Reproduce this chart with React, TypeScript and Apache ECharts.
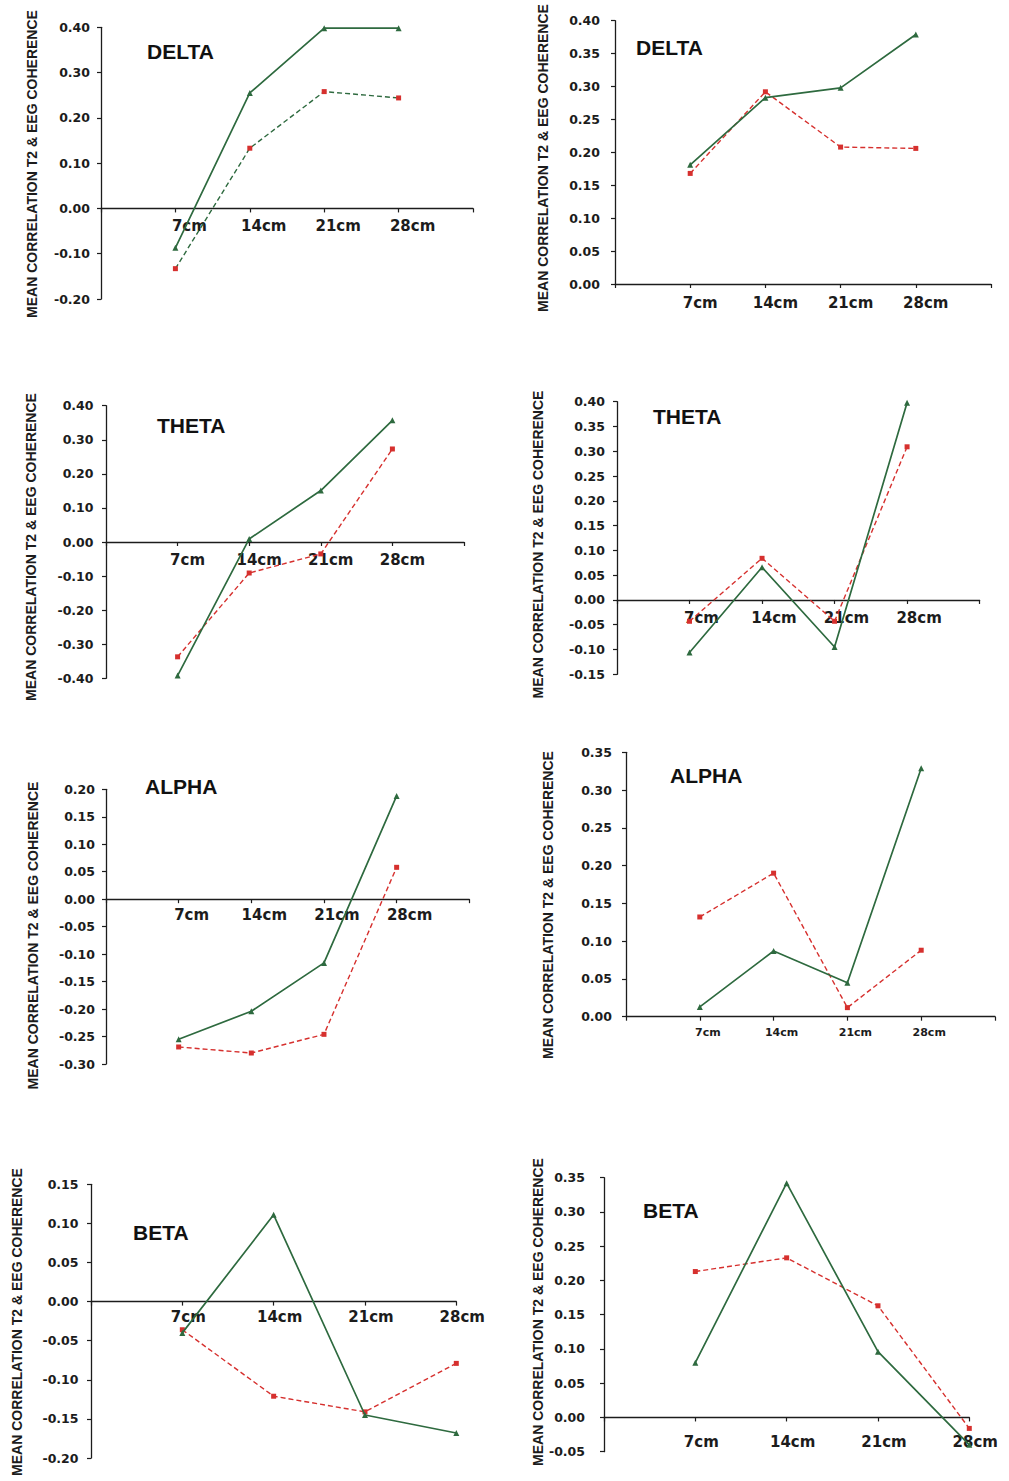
import React, { useEffect, useRef } from "react";
import * as echarts from "echarts";

const categories = ["7cm", "14cm", "21cm", "28cm"];
const yAxisTitle = "MEAN CORRELATION T2 & EEG COHERENCE";

const deltaLeftGreen = [-0.087, 0.255, 0.398, 0.398];
const deltaLeftRed = [-0.133, 0.133, 0.258, 0.244];
const deltaRightGreen = [0.181, 0.283, 0.298, 0.379];
const deltaRightRed = [0.168, 0.292, 0.208, 0.206];
const thetaLeftGreen = [-0.392, 0.009, 0.151, 0.357];
const thetaLeftRed = [-0.337, -0.091, -0.035, 0.273];
const thetaRightGreen = [-0.106, 0.066, -0.095, 0.398];
const thetaRightRed = [-0.043, 0.084, -0.043, 0.309];
const alphaLeftGreen = [-0.255, -0.204, -0.116, 0.188];
const alphaLeftRed = [-0.269, -0.28, -0.246, 0.058];
const alphaRightGreen = [0.013, 0.087, 0.045, 0.329];
const alphaRightRed = [0.132, 0.19, 0.012, 0.088];
const betaLeftGreen = [-0.04, 0.111, -0.145, -0.168];
const betaLeftRed = [-0.036, -0.121, -0.141, -0.079];
const betaRightGreen = [0.08, 0.342, 0.096, -0.04];
const betaRightRed = [0.213, 0.233, 0.163, -0.016];

const GREEN = "#2e6a3f";
const RED = "#d6302e";
const INK = "#1c1c1c";

const panels = [
  { title: "DELTA", green: deltaLeftGreen, red: deltaLeftRed, redLine: GREEN, yMin: -0.2, yMax: 0.4, yStep: 0.1, xMax: 5,
    left: 101, top: 27.3, width: 372, height: 271.7, yGap: 11, catDx: 14, catMargin: 10, catFont: 15,
    titleX: 147, titleY: 41, nameX: 32, nameY: 164 },
  { title: "DELTA", green: deltaRightGreen, red: deltaRightRed, redLine: RED, yMin: 0, yMax: 0.4, yStep: 0.05, xMax: 5,
    left: 615, top: 20.7, width: 376, height: 263.3, yGap: 15, catDx: 10, catMargin: 11, catFont: 15,
    titleX: 636, titleY: 37, nameX: 542.5, nameY: 158 },
  { title: "THETA", green: thetaLeftGreen, red: thetaLeftRed, redLine: RED, yMin: -0.4, yMax: 0.4, yStep: 0.1, xMax: 5,
    left: 106, top: 405.7, width: 358, height: 272.6, yGap: 12.5, catDx: 10, catMargin: 10, catFont: 15,
    titleX: 157, titleY: 414.5, nameX: 31, nameY: 547 },
  { title: "THETA", green: thetaRightGreen, red: thetaRightRed, redLine: RED, yMin: -0.15, yMax: 0.4, yStep: 0.05, xMax: 5,
    left: 617, top: 401.7, width: 362.6, height: 272.6, yGap: 12, catDx: 12, catMargin: 11, catFont: 15,
    titleX: 653, titleY: 405.5, nameX: 537.5, nameY: 544.5 },
  { title: "ALPHA", green: alphaLeftGreen, red: alphaLeftRed, redLine: RED, yMin: -0.3, yMax: 0.2, yStep: 0.05, xMax: 5,
    left: 106, top: 789.3, width: 363.3, height: 274.7, yGap: 11, catDx: 13, catMargin: 8, catFont: 15,
    titleX: 145, titleY: 775.5, nameX: 32.5, nameY: 935.5 },
  { title: "ALPHA", green: alphaRightGreen, red: alphaRightRed, redLine: RED, yMin: 0, yMax: 0.35, yStep: 0.05, xMax: 5,
    left: 626, top: 752.3, width: 369, height: 264.4, yGap: 14, catDx: 8, catMargin: 10, catFont: 11,
    titleX: 670, titleY: 765, nameX: 547.5, nameY: 905 },
  { title: "BETA", green: betaLeftGreen, red: betaLeftRed, redLine: RED, yMin: -0.2, yMax: 0.15, yStep: 0.05, xMax: 4,
    left: 91, top: 1184.3, width: 365.3, height: 273.7, yGap: 12.5, catDx: 6, catMargin: 8, catFont: 15,
    titleX: 133, titleY: 1222, nameX: 16.7, nameY: 1322 },
  { title: "BETA", green: betaRightGreen, red: betaRightRed, redLine: RED, yMin: -0.05, yMax: 0.35, yStep: 0.05, xMax: 4,
    left: 604, top: 1177.7, width: 365.3, height: 274, yGap: 19, catDx: 6, catMargin: 17, catFont: 15,
    titleX: 643, titleY: 1199.5, nameX: 537.5, nameY: 1312 },
];

export default function App() {
  const ref = useRef<HTMLDivElement>(null);

  useEffect(() => {
    if (!ref.current) return;
    const chart = echarts.init(ref.current, null, { renderer: "svg" });

    const grid: any[] = [];
    const xAxis: any[] = [];
    const yAxis: any[] = [];
    const series: any[] = [];
    const title: any[] = [];
    const graphic: any[] = [];

    panels.forEach((p, i) => {
      grid.push({ left: p.left, top: p.top, width: p.width, height: p.height, containLabel: false });
      // distance from the grid's bottom edge up to the value 0
      const zeroRise = (p.height * (0 - p.yMin)) / (p.yMax - p.yMin);
      xAxis.push({
        type: "value",
        gridIndex: i,
        position: "bottom",
        offset: -zeroRise,
        min: 0,
        max: p.xMax,
        interval: 1,
        axisLine: { show: true, onZero: false, lineStyle: { color: INK, width: 1.3 } },
        axisTick: { show: true, length: 4, lineStyle: { color: INK, width: 1.2 } },
        splitLine: { show: false },
        axisLabel: {
          formatter: (v: number) => categories[Math.round(v) - 1] ?? "",
          fontFamily: "DejaVu Sans",
          fontWeight: "bold",
          fontSize: p.catFont,
          color: INK,
          margin: p.catMargin,
          padding: [0, 0, 0, 2 * p.catDx],
        },
      });
      yAxis.push({
        type: "value",
        gridIndex: i,
        min: p.yMin,
        max: p.yMax,
        interval: p.yStep,
        axisLine: { show: true, onZero: false, lineStyle: { color: INK, width: 1.3 } },
        axisTick: { show: true, length: 4, lineStyle: { color: INK, width: 1.2 } },
        splitLine: { show: false },
        axisLabel: {
          formatter: (v: number) => (Math.abs(v) < 1e-9 ? "0.00" : v.toFixed(2)),
          fontFamily: "DejaVu Sans",
          fontWeight: "bold",
          fontSize: 12.5,
          color: INK,
          margin: p.yGap,
        },
      });
      series.push({
        type: "line",
        xAxisIndex: i,
        yAxisIndex: i,
        data: p.red.map((v, k) => [k + 1, v]),
        symbol: "rect",
        symbolSize: 5,
        lineStyle: { color: p.redLine, width: 1.4, type: [5, 3] },
        itemStyle: { color: RED },
        z: 2,
      });
      series.push({
        type: "line",
        xAxisIndex: i,
        yAxisIndex: i,
        data: p.green.map((v, k) => [k + 1, v]),
        symbol: "triangle",
        symbolSize: 6,
        lineStyle: { color: GREEN, width: 1.7 },
        itemStyle: { color: GREEN },
        z: 3,
      });
      title.push({
        text: p.title,
        left: p.titleX,
        top: p.titleY,
        padding: 0,
        textStyle: { fontFamily: "Liberation Sans", fontWeight: "bold", fontSize: 21, color: "#111" },
      });
      graphic.push({
        type: "text",
        x: p.nameX,
        y: p.nameY,
        rotation: Math.PI / 2,
        style: {
          text: yAxisTitle,
          fontFamily: "Liberation Sans",
          fontWeight: "bold",
          fontSize: 14,
          fill: INK,
          align: "center",
          verticalAlign: "middle",
        },
      });
    });

    chart.setOption({
      animation: false,
      backgroundColor: "#ffffff",
      title,
      grid,
      xAxis,
      yAxis,
      series,
      graphic,
    });

    return () => chart.dispose();
  }, []);

  return (
    <div
      ref={ref}
      style={{ position: "absolute", left: 0, top: 0, width: 1009, height: 1481 }}
    />
  );
}
